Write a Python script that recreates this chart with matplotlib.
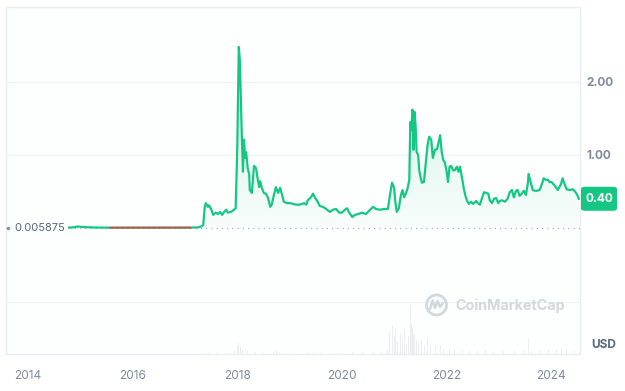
import numpy as np
import matplotlib
matplotlib.use("Agg")
import matplotlib.pyplot as plt
from matplotlib.patches import Rectangle, FancyBboxPatch, Circle
from matplotlib.colors import LinearSegmentedColormap
from matplotlib.lines import Line2D

plt.rcParams["font.family"] = ["Inter", "DejaVu Sans"]

# ---------------- data ----------------
years = [
    2014.765, 2014.84, 2014.956, 2015.07, 2015.28, 2015.57, 2015.95, 2016.33, 2016.72,
    2017.10, 2017.25, 2017.31, 2017.35, 2017.38, 2017.40, 2017.44, 2017.46, 2017.50,
    2017.54, 2017.59, 2017.63, 2017.67, 2017.71, 2017.75, 2017.79, 2017.82, 2017.88,
    2017.94, 2017.97, 2018.00, 2018.03, 2018.05, 2018.09, 2018.11, 2018.13, 2018.15,
    2018.17, 2018.20, 2018.23, 2018.24, 2018.28, 2018.32, 2018.36, 2018.39, 2018.42,
    2018.44, 2018.47, 2018.51, 2018.55, 2018.59, 2018.63, 2018.66, 2018.70, 2018.74,
    2018.78, 2018.82, 2018.86, 2018.89, 2018.95, 2019.01, 2019.07, 2019.12, 2019.20,
    2019.28, 2019.32, 2019.35, 2019.41, 2019.45, 2019.49, 2019.53, 2019.58, 2019.64,
    2019.70, 2019.77, 2019.83, 2019.89, 2019.95, 2020.00, 2020.06, 2020.10, 2020.14,
    2020.20, 2020.25, 2020.31, 2020.39, 2020.46, 2020.54, 2020.60, 2020.65, 2020.73,
    2020.81, 2020.88, 2020.92, 2020.96, 2021.00, 2021.02, 2021.05, 2021.09, 2021.13,
    2021.16, 2021.19, 2021.23, 2021.26, 2021.29, 2021.31, 2021.33, 2021.35, 2021.37,
    2021.39, 2021.41, 2021.43, 2021.46, 2021.48, 2021.51, 2021.53, 2021.57, 2021.61,
    2021.64, 2021.67, 2021.71, 2021.74, 2021.78, 2021.82, 2021.86, 2021.88, 2021.91,
    2021.94, 2021.97, 2022.00, 2022.03, 2022.06, 2022.09, 2022.13, 2022.16, 2022.20,
    2022.23, 2022.26, 2022.30, 2022.33, 2022.36, 2022.39, 2022.43, 2022.47, 2022.51,
    2022.57, 2022.60, 2022.64, 2022.68, 2022.72, 2022.76, 2022.80, 2022.83, 2022.87,
    2022.91, 2022.95, 2022.99, 2023.02, 2023.06, 2023.12, 2023.17, 2023.21, 2023.25,
    2023.29, 2023.33, 2023.36, 2023.40, 2023.44, 2023.48, 2023.52, 2023.56, 2023.57,
    2023.61, 2023.65, 2023.69, 2023.74, 2023.78, 2023.82, 2023.86, 2023.90, 2023.94,
    2023.97, 2024.01, 2024.07, 2024.13, 2024.19, 2024.22, 2024.26, 2024.30, 2024.36,
    2024.42, 2024.47, 2024.51, 2024.53,
]
prices = [
    0.0059, 0.0062, 0.020, 0.012, 0.0061, 0.0040, 0.0040, 0.0030, 0.0040,
    0.0050, 0.008, 0.02, 0.04, 0.30, 0.34, 0.29, 0.31, 0.26,
    0.18, 0.21, 0.19, 0.22, 0.18, 0.22, 0.25, 0.21, 0.22,
    0.25, 0.27, 1.07, 2.48, 2.30, 1.21, 0.77, 1.21, 0.96,
    1.04, 0.82, 0.73, 0.52, 0.48, 0.85, 0.82, 0.68, 0.56,
    0.64, 0.55, 0.48, 0.47, 0.41, 0.29, 0.32, 0.45, 0.56,
    0.48, 0.55, 0.45, 0.36, 0.34, 0.34, 0.33, 0.32, 0.32,
    0.34, 0.32, 0.38, 0.42, 0.47, 0.41, 0.37, 0.30, 0.29,
    0.26, 0.22, 0.25, 0.26, 0.21, 0.21, 0.25, 0.27, 0.21,
    0.15, 0.18, 0.19, 0.21, 0.19, 0.25, 0.29, 0.26, 0.25,
    0.26, 0.26, 0.45, 0.62, 0.55, 0.38, 0.22, 0.27, 0.45,
    0.52, 0.42, 0.48, 0.55, 0.66, 1.45, 1.34, 1.62, 1.07,
    1.59, 1.41, 1.04, 1.00, 0.79, 0.68, 0.62, 0.63, 0.93,
    1.14, 1.25, 1.21, 0.96, 1.07, 1.08, 1.21, 1.27, 1.04,
    0.93, 0.90, 0.79, 0.63, 0.84, 0.85, 0.79, 0.79, 0.84,
    0.77, 0.84, 0.68, 0.55, 0.45, 0.38, 0.33, 0.36, 0.33,
    0.37, 0.34, 0.32, 0.41, 0.49, 0.48, 0.47, 0.38, 0.34,
    0.40, 0.41, 0.34, 0.37, 0.38, 0.36, 0.40, 0.49, 0.52,
    0.42, 0.51, 0.52, 0.44, 0.47, 0.51, 0.45, 0.63, 0.74,
    0.63, 0.52, 0.51, 0.51, 0.52, 0.59, 0.68, 0.66, 0.66,
    0.63, 0.63, 0.58, 0.52, 0.60, 0.68, 0.60, 0.53, 0.52,
    0.53, 0.49, 0.44, 0.40,
]

vol_years = [
    2017.35, 2017.45, 2017.60, 2017.80, 2017.95, 2018.00, 2018.03, 2018.06, 2018.10,
    2018.20, 2018.35, 2018.50, 2018.70, 2018.75, 2018.90, 2019.10, 2019.35, 2019.45,
    2019.60, 2019.80, 2020.00, 2020.20, 2020.40, 2020.60, 2020.75, 2020.88, 2020.92,
    2020.96, 2021.00, 2021.03, 2021.07, 2021.12, 2021.16, 2021.20, 2021.24, 2021.28,
    2021.31, 2021.33, 2021.35, 2021.38, 2021.42, 2021.46, 2021.52, 2021.58, 2021.64,
    2021.70, 2021.80, 2021.88, 2021.95, 2022.05, 2022.15, 2022.30, 2022.45, 2022.60,
    2022.75, 2022.90, 2023.10, 2023.30, 2023.50, 2023.57, 2023.62, 2023.80, 2023.95,
    2024.10, 2024.20, 2024.30, 2024.45,
]
vol_values = [
    1, 1.5, 1, 1.5, 3, 8, 11, 7, 4,
    3, 2, 1.5, 2, 3, 1.5, 1.5, 2, 2.5,
    1.5, 1.5, 1.5, 2, 2, 2.5, 2.5, 4, 22,
    29, 18, 26, 12, 21, 15, 24, 10, 18,
    49, 30, 26, 20, 14, 10, 14, 8, 14,
    9, 7, 9, 5, 6, 4, 5, 3, 3,
    4, 2.5, 3, 3, 3, 16, 4, 3, 4,
    4, 6, 3, 3,
]

start_price = 0.005875
start_label = "0.005875"
x_ticks = [2014, 2016, 2018, 2020, 2022, 2024]
y_ticks = [1.0, 2.0]
y_tick_labels = ["1.00", "2.00"]
currency = "USD"

# ---------------- styling ----------------
GREEN = "#16c784"
RED = "#ea3943"
GRID = "#eff2f5"
TXT = "#808a9d"

W, H = 625, 391
fig = plt.figure(figsize=(W / 100, H / 100), dpi=100)
fig.patch.set_facecolor("white")


def fxy(px, py):
    return px / W, 1 - py / H


# outer frame (behind everything)
x0f, y0f = fxy(6, 354)
fig.patches.append(Rectangle((x0f, y0f), 574 / W, 347 / H, transform=fig.transFigure,
                             facecolor="#fdfefe", edgecolor="#e9ecf0", lw=1.0, zorder=-5))

XMIN, XMAX = 2013.579, 2024.554

# price axes
l, b = fxy(6, 302)
ax = fig.add_axes([l, b, 574 / W, (302 - 7) / H])
ax.patch.set_alpha(0)
ax.set_zorder(2)

yr = np.array(years)
pr = np.array(prices)

# gradient fill under line
poly = ax.fill_between(yr, pr, start_price, color="none", lw=0)
cmap = LinearSegmentedColormap.from_list(
    "g", [(22 / 255, 199 / 255, 132 / 255, 0.02), (22 / 255, 199 / 255, 132 / 255, 0.22)])
grad = np.linspace(0, 1, 256).reshape(-1, 1)
im = ax.imshow(grad, aspect="auto", extent=[XMIN, XMAX, 0, 2.5], origin="lower",
               cmap=cmap, zorder=1, interpolation="bicubic")
im.set_clip_path(poly.get_paths()[0], transform=ax.transData)

# baseline dotted
ax.axhline(start_price, color="#a9b2c3", lw=0.9, ls=(0, (1, 3.2)), zorder=2)

# price line: green above start price, red below
ax.plot(yr, pr, color=GREEN, lw=1.6, zorder=4, solid_joinstyle="round")
below = np.where(pr < start_price, pr, np.nan)
ax.plot(yr, below, color=RED, lw=1.3, zorder=5, alpha=0.85)

ax.set_xlim(XMIN, XMAX)
ax.set_ylim(-1.014, 3.027)
ax.set_yticks(y_ticks)
ax.set_yticklabels(y_tick_labels)
ax.yaxis.tick_right()
ax.tick_params(axis="y", length=0, pad=4.5, labelsize=8.5, labelcolor=TXT)
for t in ax.get_yticklabels():
    t.set_fontweight("bold")
ax.set_xticks([])
ax.grid(axis="y", color=GRID, lw=0.9)
for s in ax.spines.values():
    s.set_visible(False)

# start price label
ax.text(8 / 574, start_price, start_label,
        transform=ax.get_yaxis_transform(), ha="left", va="center", fontsize=8,
        color="#58667e", zorder=6,
        bbox=dict(boxstyle="square,pad=0.25", fc="#fdfefe", ec="none"))
ax.plot([2 / 574], [start_price], marker="o", ms=1.5, color="#8a94a6",
        transform=ax.get_yaxis_transform(), zorder=7)

# volume axes
l2, b2 = fxy(6, 354)
ax2 = fig.add_axes([l2, b2, 574 / W, 52 / H])
ax2.patch.set_alpha(0)
ax2.set_zorder(1)
ax2.bar(vol_years, vol_values, width=0.02, color="#eceef1", lw=0)
ax2.set_xlim(XMIN, XMAX)
ax2.set_ylim(0, 52)
ax2.set_yticks([])
ax2.set_xticks(x_ticks)
ax2.set_xticklabels([str(t) for t in x_ticks])
ax2.tick_params(axis="x", length=0, pad=11.5, labelsize=8.5, labelcolor=TXT)
for s in ax2.spines.values():
    s.set_visible(False)
ax2.spines["top"].set_visible(True)
ax2.spines["top"].set_color(GRID)
ax2.spines["top"].set_linewidth(0.9)

# last price tag
fig.canvas.draw()
last_disp = ax.transData.transform((XMAX, prices[-1]))
fx_last, fy_last = fig.transFigure.inverted().transform(last_disp)
bw, bh = 36 / W, 24 / H
fig.patches.append(FancyBboxPatch((fx_last + 1 / W, fy_last - bh / 2), bw, bh,
                                  boxstyle="round,pad=0,rounding_size=0.006",
                                  transform=fig.transFigure, fc=GREEN, ec="none", zorder=10))
fig.text(fx_last + 1 / W + bw / 2, fy_last, f"{prices[-1]:.2f}", ha="center", va="center",
         color="white", fontsize=8.5, fontweight="bold", zorder=11)

# currency label
fig.text(*fxy(604, 345), currency, ha="center", va="center", fontsize=8.5,
         fontweight="bold", color="#58667e")

# watermark
fig.patches.append(Circle((436.5, H - 305), 10, transform=None, fill=False,
                          ec="#d3d8df", lw=2.0, zorder=8))
wave_x = [430, 432.5, 435, 437.5, 440, 443]
wave_y = [309, 300.5, 308, 301, 307, 303]
fig.lines.append(Line2D([p / W for p in wave_x], [1 - q / H for q in wave_y],
                        transform=fig.transFigure, color="#d3d8df", lw=1.8, zorder=8,
                        solid_joinstyle="round", solid_capstyle="round"))
fig.text(*fxy(455, 306), "CoinMarketCap", ha="left", va="center", fontsize=10.3,
         fontweight="bold", color="#d3d8df", zorder=8)

fig.savefig("out.png", dpi=100)
